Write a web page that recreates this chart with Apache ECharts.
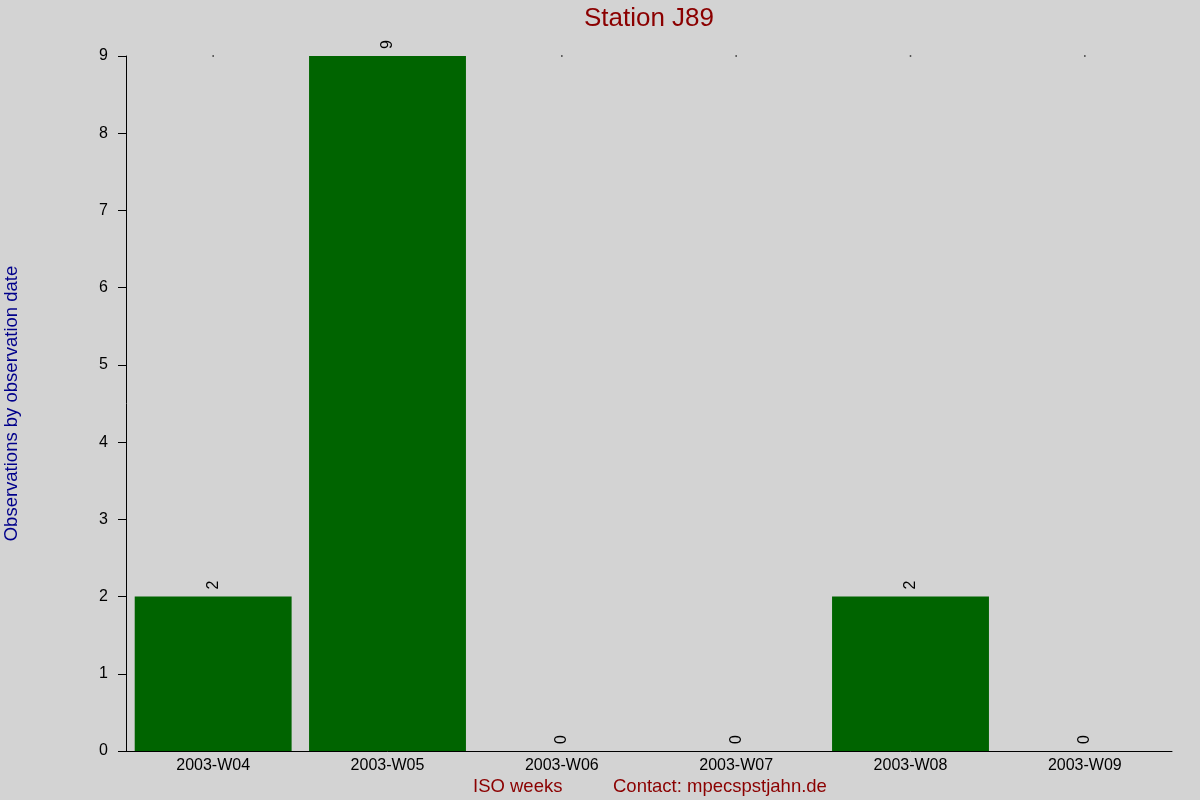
<!DOCTYPE html>
<html>
<head>
<meta charset="utf-8">
<script src="https://cdn.jsdelivr.net/npm/echarts@6/dist/echarts.min.js"></script>
<style>
  html, body { margin: 0; padding: 0; background: #d3d3d3; }
  #chart { width: 1200px; height: 800px; }
</style>
</head>
<body>
<div id="chart"></div>
<script>
const weeks = ['2003-W04', '2003-W05', '2003-W06', '2003-W07', '2003-W08', '2003-W09']
const counts = [2, 9, 0, 0, 2, 0]
const yTop = 9

const FONT = '"Liberation Sans", Arial, sans-serif'

const chart = echarts.init(document.getElementById('chart'), null, { renderer: 'canvas' })

chart.setOption({
  backgroundColor: '#d3d3d3',
  animation: false,
  grid: { left: 126, right: 28, top: 56, bottom: 49, outerBoundsMode: 'none', containLabel: false },
  xAxis: {
    type: 'category',
    data: weeks,
    axisTick: { show: false },
    axisLine: { lineStyle: { color: '#000', width: 1 } },
    axisLabel: { fontFamily: FONT, fontSize: 16, color: '#000', margin: 7 },
  },
  yAxis: {
    type: 'value',
    min: 0,
    max: yTop,
    interval: 1,
    name: 'Observations by observation date',
    nameLocation: 'middle',
    nameGap: 105,
    nameTextStyle: { fontFamily: FONT, fontSize: 18.5, color: '#00008b' },
    axisLine: { show: true, lineStyle: { color: '#000', width: 1 } },
    axisTick: { show: true, length: 8, lineStyle: { color: '#000' } },
    axisLabel: { fontFamily: FONT, fontSize: 16, color: '#000', margin: 18 },
    splitLine: { show: false },
  },
  series: [
    {
      // small marker at the top of each empty column (hidden behind full bars)
      type: 'scatter',
      data: counts.map(c => (c < yTop ? yTop : '-')),
      symbol: 'rect',
      symbolSize: 1.5,
      itemStyle: { color: '#000' },
      silent: true,
      z: 1,
    },
    {
      type: 'bar',
      data: counts,
      barWidth: '90%',
      itemStyle: { color: '#006400' },
      z: 3,
      label: {
        show: true,
        position: 'top',
        rotate: 90,
        align: 'left',
        verticalAlign: 'middle',
        distance: 7,
        fontFamily: FONT,
        fontSize: 16,
        color: '#000',
      },
    },
  ],
  graphic: [
    {
      type: 'text',
      x: 649,
      y: 6,
      style: { text: 'Station J89', font: '26px ' + FONT, fill: '#8b0000', textAlign: 'center', textVerticalAlign: 'top' },
    },
    {
      type: 'text',
      left: 473,
      top: 777,
      style: { text: 'ISO weeks', font: '18.5px ' + FONT, fill: '#8b0000' },
    },
    {
      type: 'text',
      left: 613,
      top: 777,
      style: { text: 'Contact: mpecspstjahn.de', font: '18.5px ' + FONT, fill: '#8b0000' },
    },
  ],
})
</script>
</body>
</html>
